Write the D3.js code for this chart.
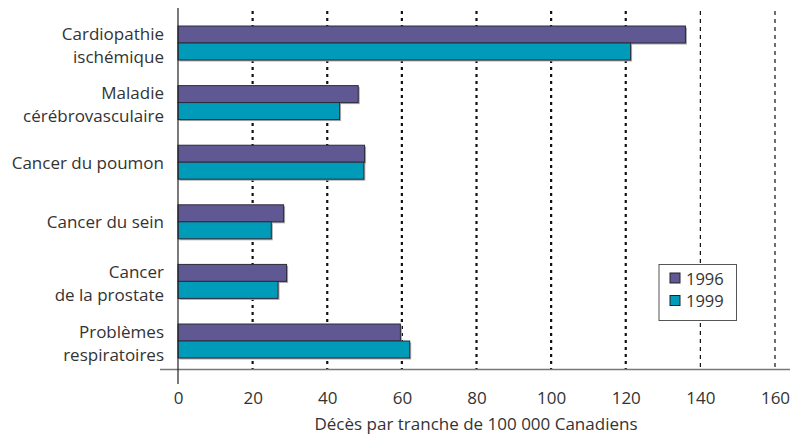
<!DOCTYPE html>
<html>
<head>
<meta charset="utf-8">
<script src="https://cdn.jsdelivr.net/npm/d3@7"></script>
<style>
  html, body { margin: 0; padding: 0; background: #fff; }
  svg { display: block; font-family: "Open Sans", "Noto Sans", sans-serif; }
</style>
</head>
<body>
<svg id="chart" width="790" height="440"></svg>
<script>
// Mortality rates per 100 000 Canadians, by cause
const categories = [
  ["Cardiopathie", "ischémique"],
  ["Maladie", "cérébrovasculaire"],
  ["Cancer du poumon"],
  ["Cancer du sein"],
  ["Cancer", "de la prostate"],
  ["Problèmes", "respiratoires"]
];
const years = ["1996", "1999"];
const values1996 = [136.0, 48.3, 50.0, 28.3, 29.1, 59.6];
const values1999 = [121.3, 43.3, 49.8, 25.0, 26.8, 62.1];
const xTicks = [0, 20, 40, 60, 80, 100, 120, 140, 160];
const axisTitle = "Décès par tranche de 100 000 Canadiens";

const colors = { "1996": "#5f5892", "1999": "#009bb8" };
const ink = "#333";
const fontSize = 17;

const svg = d3.select("#chart");
const keys = categories.map(c => c.join(" "));
const rows = keys.map((k, i) => ({ key: k, lines: categories[i], "1996": values1996[i], "1999": values1999[i] }));

const x = d3.scaleLinear().domain([0, 160]).range([178, 775]);
const y = d3.scaleBand().domain(keys).range([13.2, 370.8]).paddingInner(0.43).paddingOuter(0.215);
const ySub = d3.scaleBand().domain(years).range([0, y.bandwidth()]);
const axisY = 369.5;

// vertical dotted gridlines
svg.append("g").selectAll("line")
  .data(xTicks.filter(t => t > 0))
  .join("line")
  .attr("x1", d => x(d)).attr("x2", d => x(d))
  .attr("y1", 11).attr("y2", axisY)
  .attr("stroke", "#111")
  .attr("stroke-width", d => d <= 120 ? 2.2 : 1.2)
  .attr("stroke-dasharray", d => d <= 120 ? "3,4" : "4,4");

// bars with a soft drop shadow
const groups = svg.append("g").selectAll("g")
  .data(rows).join("g")
  .attr("transform", d => `translate(0,${y(d.key)})`);

years.forEach(yr => {
  groups.append("rect")
    .attr("x", x(0) + 1.5)
    .attr("y", ySub(yr) + 1.5)
    .attr("width", d => x(d[yr]) - x(0))
    .attr("height", ySub.bandwidth())
    .attr("fill", "#a8a8a8");
});
years.forEach(yr => {
  groups.append("rect")
    .attr("x", x(0))
    .attr("y", ySub(yr))
    .attr("width", d => x(d[yr]) - x(0))
    .attr("height", ySub.bandwidth())
    .attr("fill", colors[yr])
    .attr("stroke", "#2b2b3b")
    .attr("stroke-width", 1);
});

// axes lines
svg.append("line")
  .attr("x1", 160).attr("x2", 790)
  .attr("y1", axisY).attr("y2", axisY)
  .attr("stroke", "#777").attr("stroke-width", 1.5);
svg.append("line")
  .attr("x1", x(0)).attr("x2", x(0))
  .attr("y1", 8).attr("y2", 384)
  .attr("stroke", "#222").attr("stroke-width", 1.2);

// x tick labels
const xAxis = d3.axisBottom(x).tickValues(xTicks).tickSize(0).tickPadding(0);
const gx = svg.append("g").attr("transform", `translate(0,${axisY})`).call(xAxis);
gx.select(".domain").remove();
gx.selectAll("text")
  .attr("y", 34)
  .attr("dy", 0)
  .attr("fill", ink)
  .attr("font-size", fontSize)
  .attr("font-family", "Open Sans, Noto Sans, sans-serif");

// axis title
svg.append("text")
  .attr("x", 476).attr("y", 430)
  .attr("text-anchor", "middle")
  .attr("fill", ink).attr("font-size", fontSize)
  .text(axisTitle);

// category labels (one or two lines, right-aligned against the axis)
const labelX = 164;
const lineGap = 23;
const lab = svg.append("g").selectAll("text")
  .data(rows).join("text")
  .attr("text-anchor", "end")
  .attr("fill", ink).attr("font-size", fontSize)
  .attr("x", labelX)
  .attr("y", d => y(d.key) + y.bandwidth() / 2 + (d.lines.length > 1 ? -3.5 : 6.5));
lab.each(function(d) {
  const t = d3.select(this);
  d.lines.forEach((line, i) => {
    t.append("tspan")
      .attr("x", labelX)
      .attr("dy", i === 0 ? 0 : lineGap)
      .text(line);
  });
});

// legend
const lg = svg.append("g").attr("transform", "translate(659,264.5)");
lg.append("rect").attr("width", 77.5).attr("height", 56)
  .attr("fill", "#fff").attr("stroke", "#555").attr("stroke-width", 1);
years.forEach((yr, i) => {
  lg.append("rect")
    .attr("x", 11).attr("y", 8.5 + i * 22.5)
    .attr("width", 10).attr("height", 10)
    .attr("fill", colors[yr]).attr("stroke", "#222").attr("stroke-width", 1);
  lg.append("text")
    .attr("x", 27).attr("y", 20 + i * 22.5)
    .attr("fill", ink).attr("font-size", 16.5)
    .text(yr);
});
</script>
</body>
</html>
